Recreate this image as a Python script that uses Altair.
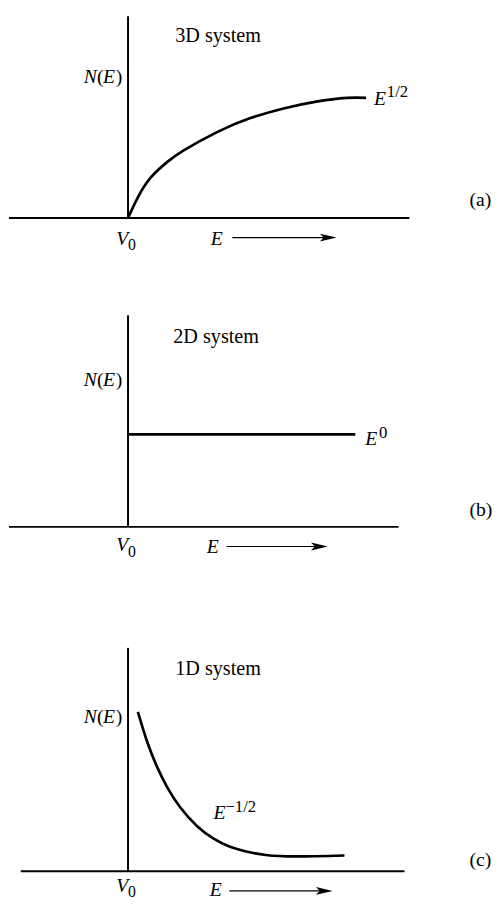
import altair as alt
import pandas as pd

# ---- data (energy E relative to V0, density of states N) ----
E_3d = [0.0, 0.10, 0.23, 0.40, 0.57, 0.90, 1.23, 1.57, 1.90, 2.23, 2.42]
N_3d = [0.0, 0.21, 0.41, 0.57, 0.69, 0.87, 1.01, 1.11, 1.18, 1.22, 1.22]

E_2d = [0.0, 2.31]
N_2d = [0.94, 0.94]

E_1d = [0.10, 0.20, 0.30, 0.40, 0.53, 0.70, 0.87, 1.03, 1.20, 1.40, 1.70, 2.20]
N_1d = [1.62, 1.30, 1.05, 0.85, 0.65, 0.46, 0.33, 0.25, 0.20, 0.165, 0.15, 0.16]

panel_titles = ["3D system", "2D system", "1D system"]
panel_tags = ["(a)", "(b)", "(c)"]
exponents = ["1/2", "0", "\u22121/2"]

# axis extents per panel (E range of horizontal axis, N top of vertical axis)
h_axis = [[-1.21, 2.86], [-1.21, 2.75], [-1.09, 2.81]]
v_top = [2.05, 2.15, 2.27]
arrow_span = [[1.06, 2.12], [1.00, 2.03], [1.03, 2.08]]
e_label_x = [0.84, 0.80, 0.83]

X_DOMAIN = [-1.22, 3.73]
FONT = "Liberation Serif"


def xs():
    return alt.Scale(domain=X_DOMAIN, nice=False, zero=False)


def panel(curve_E, curve_N, ydom, height, idx, title_pos, ne_N, exp_pos, tag_N, v0_N):
    ys = alt.Scale(domain=ydom, nice=False, zero=False)
    X = alt.X("E:Q", scale=xs(), axis=None)
    Y = alt.Y("N:Q", scale=ys, axis=None)

    def txt(label, e, n, size=20, italic=False, align="left"):
        df = pd.DataFrame({"E": [e], "N": [n], "t": [label]})
        return alt.Chart(df).mark_text(
            font=FONT, fontSize=size, fontStyle="italic" if italic else "normal",
            align=align, baseline="alphabetic", color="black"
        ).encode(x=X, y=Y, text="t:N")

    curve = alt.Chart(pd.DataFrame({"E": curve_E, "N": curve_N})).mark_line(
        color="black", strokeWidth=2.7, interpolate="natural", strokeCap="butt"
    ).encode(x=X, y=Y)

    haxis = alt.Chart(pd.DataFrame({"E": [h_axis[idx][0]], "E2": [h_axis[idx][1]], "N": [0.0]})).mark_rule(
        color="black", strokeWidth=2
    ).encode(x=X, x2="E2:Q", y=Y)

    vaxis = alt.Chart(pd.DataFrame({"E": [0.0], "N": [0.0], "N2": [v_top[idx]]})).mark_rule(
        color="black", strokeWidth=2
    ).encode(x=X, y=Y, y2="N2:Q")

    a0, tip = arrow_span[idx]
    ashaft = alt.Chart(pd.DataFrame({"E": [a0], "E2": [tip - 0.1], "N": [-0.20]})).mark_rule(
        color="black", strokeWidth=1.1
    ).encode(x=X, x2="E2:Q", y=Y)
    ahead = alt.Chart(pd.DataFrame({"E": [tip - 0.085], "N": [-0.20]})).mark_point(
        shape="M1,0L-1,-0.47L-0.55,0L-1,0.47Z", size=289, filled=True, opacity=1,
        color="black", strokeWidth=0
    ).encode(x=X, y=Y)

    layers = [haxis, vaxis, curve, ashaft, ahead,
              txt(panel_titles[idx], title_pos[0], title_pos[1], size=20.5),
              txt("N", -0.45, ne_N, italic=True),
              txt("(", -0.315, ne_N),
              txt("E", -0.255, ne_N, italic=True),
              txt(")", -0.125, ne_N),
              txt("E", exp_pos[0], exp_pos[1], italic=True),
              txt(exponents[idx], exp_pos[2], exp_pos[3], size=17),
              txt(panel_tags[idx], 3.47, tag_N),
              txt("V", -0.12, v0_N[0], italic=True),
              txt("0", 0.0, v0_N[1], size=16),
              txt("E", e_label_x[idx], v0_N[2], italic=True)]
    return alt.layer(*layers).properties(width=495, height=height)


pa = panel(E_3d, N_3d, [-0.94, 2.06], 300, 0, (0.48, 1.79), 1.37, (2.50, 1.15, 2.63, 1.23), 0.12,
           (-0.28, -0.33, -0.28))
pb = panel(E_2d, N_2d, [-0.80, 2.20], 300, 1, (0.46, 1.87), 1.43, (2.41, 0.83, 2.55, 0.90), 0.11,
           (-0.25, -0.31, -0.27))
pc = panel(E_1d, N_1d, [-0.26, 2.70], 296, 2, (0.48, 1.99), 1.51, (0.87, 0.53, 0.99, 0.60), 0.05,
           (-0.215, -0.26, -0.25))

chart = alt.vconcat(pa, pb, pc, spacing=0, bounds="flush").properties(
    padding=0
).configure_view(stroke=None)

chart.save("out.html", embed_options={"renderer": "svg", "actions": False})
